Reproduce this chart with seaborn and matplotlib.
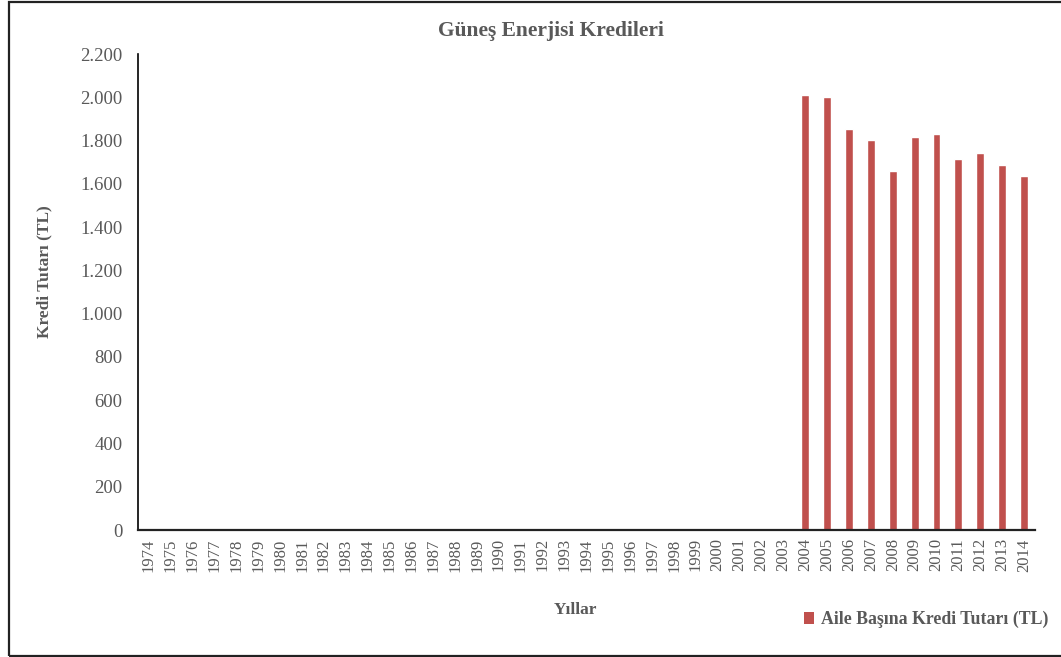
import matplotlib
matplotlib.use("Agg")
import matplotlib.pyplot as plt
import matplotlib.ticker as mticker
from matplotlib.patches import Patch, Rectangle
import seaborn as sns
import pandas as pd

# Yearly solar energy loan amount per family (TL); no loans before 2004
years = [str(y) for y in range(1974, 2015)]
loan_2004_2014 = [2010, 2000, 1853, 1802, 1661, 1815, 1830, 1713, 1744, 1686, 1636]
loan_values = [0] * (len(years) - len(loan_2004_2014)) + loan_2004_2014

title = "Güneş Enerjisi Kredileri"
x_label = "Yıllar"
y_label = "Kredi Tutarı (TL)"
series_label = "Aile Başına Kredi Tutarı (TL)"
y_ticks = list(range(0, 2201, 200))

df = pd.DataFrame({"Yıl": years, "Tutar": loan_values})

sns.set_style("white")
plt.rcParams["font.family"] = ["Liberation Serif", "DejaVu Serif"]

bar_color = "#C0504D"
text_gray = "#595959"

fig = plt.figure(figsize=(10.61, 6.57), dpi=100)
ax = fig.add_axes([0.130, 0.1933, 0.8455, 0.7245])

sns.barplot(data=df, x="Yıl", y="Tutar", color=bar_color, width=0.36,
            saturation=1, ax=ax)

ax.set_xlim(-0.5, len(years) - 0.5)
ax.set_ylim(0, 2200)
ax.set_yticks(y_ticks)
ax.yaxis.set_major_formatter(
    mticker.FuncFormatter(lambda v, p: f"{v:,.0f}".replace(",", ".")))
ax.tick_params(axis="y", labelsize=13.5, colors=text_gray, length=0, pad=11)
ax.tick_params(axis="x", labelsize=12, colors=text_gray, length=0, pad=6,
               labelrotation=90)

for side in ("top", "right"):
    ax.spines[side].set_visible(False)
ax.spines["left"].set_color("black")
ax.spines["left"].set_linewidth(1.2)
ax.spines["bottom"].set_color("#222222")
ax.spines["bottom"].set_linewidth(1.6)

ax.set_xlabel("")
ax.set_ylabel("")
fig.text(0.5195, 0.953, title, ha="center", va="center", fontsize=15.5,
         fontweight="bold", color=text_gray)
fig.text(0.542, 0.072, x_label, ha="center", va="center", fontsize=12.5,
         fontweight="bold", color=text_gray)
fig.text(0.042, 0.586, y_label, ha="center", va="center", fontsize=12.5,
         fontweight="bold", color=text_gray, rotation=90)

handle = Patch(facecolor=bar_color, edgecolor="none")
fig.legend([handle], [series_label], loc="center", bbox_to_anchor=(0.873, 0.057),
           frameon=False, handlelength=0.6, handleheight=0.6, handletextpad=0.4,
           prop={"size": 12.8, "weight": "bold"}, labelcolor=text_gray)

# Chart area frame
fig.patches.append(Rectangle((0.0085, 0.0015), 1.2, 0.995, transform=fig.transFigure,
                             fill=False, edgecolor="#222222", linewidth=1.6))

fig.savefig("out.png", dpi=100)
